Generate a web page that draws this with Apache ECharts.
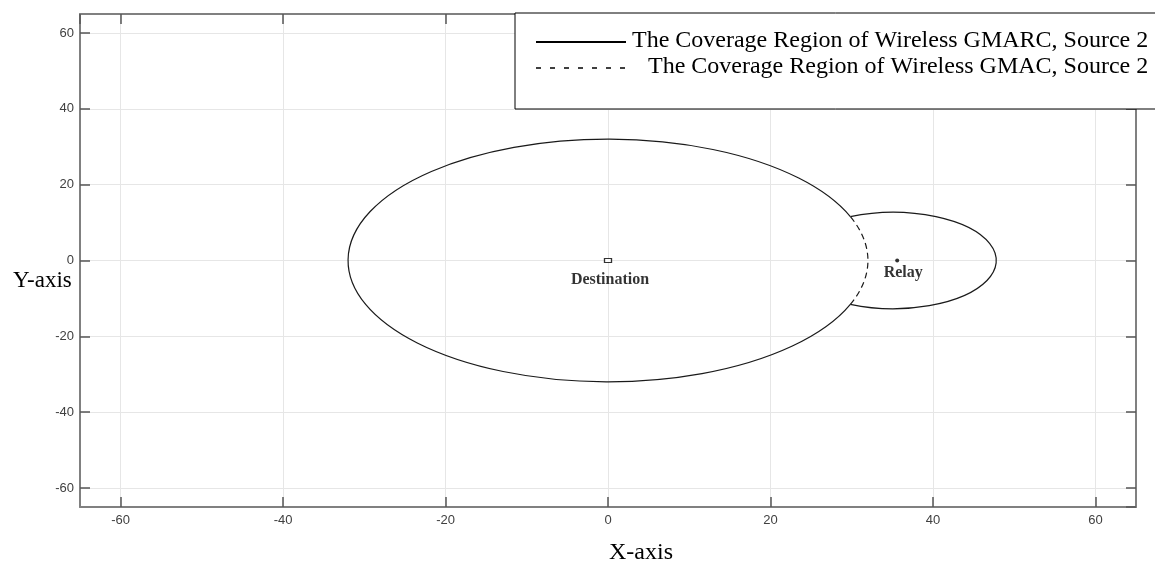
<!DOCTYPE html>
<html><head><meta charset="utf-8">
<script src="https://cdn.jsdelivr.net/npm/echarts@6/dist/echarts.min.js"></script>
<style>html,body{margin:0;padding:0;background:#fff}#c{width:1155px;height:562px}</style>
</head><body><div id="c"></div>
<script>
// ---- data ----
const regionNames = ['The Coverage Region of Wireless GMARC, Source 2', 'The Coverage Region of Wireless GMAC, Source 2'];
const circleCx = [0, 35.1];
const circleCy = [0, 0];
const circleR = [32, 12.7];
// boundary arcs: circle index, start angle, end angle (degrees, counter-clockwise)
const gmarcArcCircle = [0, 1];
const gmarcArcStart = [21.2, -114.5];
const gmarcArcEnd = [338.8, 114.5];
const gmacArcCircle = [0];
const gmacArcStart = [-21.2];
const gmacArcEnd = [21.2];
const nodeNames = ['Destination', 'Relay'];
const nodeX = [0, 35.6];
const nodeY = [0, 0];
const axisMin = -65, axisMax = 65, tickStep = 20;
const xAxisName = 'X-axis', yAxisName = 'Y-axis';

// ---- chart ----
const chart = echarts.init(document.getElementById('c'), null, {renderer: 'canvas'});
const serif = '"Liberation Serif","Times New Roman",serif';
const sans = '"Liberation Sans",Arial,Helvetica,sans-serif';

function arcData(circ, st, en) {
  return circ.map((ci, i) => [circleCx[ci], circleCy[ci], circleR[ci], st[i], en[i]]);
}
function makeRender(dashed) {
  return function (params, api) {
    const cx = api.value(0), cy = api.value(1), r = api.value(2);
    const d0 = api.value(3), d1 = api.value(4);
    const a0 = d0 * Math.PI / 180, a1 = d1 * Math.PI / 180;
    const c = api.coord([cx, cy]);
    const s = api.size([r, r]);
    const rx = s[0], ry = s[1];
    const sx = c[0] + rx * Math.cos(a0), sy = c[1] - ry * Math.sin(a0);
    const ex = c[0] + rx * Math.cos(a1), ey = c[1] - ry * Math.sin(a1);
    const large = (d1 - d0) > 180 ? 1 : 0;
    return {
      type: 'path',
      shape: {pathData: 'M' + sx + ' ' + sy + ' A' + rx + ' ' + ry + ' 0 ' + large + ' 0 ' + ex + ' ' + ey},
      style: {fill: 'none', stroke: '#1a1a1a', lineWidth: 1.2, lineDash: dashed ? [6, 4] : null}
    };
  };
}

function axisCommon(showLabel, showSplit) {
  return {
    min: axisMin, max: axisMax, splitNumber: 6, minInterval: tickStep, maxInterval: tickStep,
    axisLine: {show: true, onZero: false, lineStyle: {color: '#808080', width: 2}},
    axisTick: {show: true, inside: true, length: 10, lineStyle: {color: '#555', width: 1.5}},
    axisLabel: {show: showLabel, color: '#404040', fontSize: 13, fontFamily: sans, showMinLabel: false, showMaxLabel: false},
    splitLine: {show: showSplit, lineStyle: {color: '#e6e6e6', width: 1}}
  };
}

const xBottom = Object.assign(axisCommon(true, true), {type: 'value', position: 'bottom'});
xBottom.axisLabel.margin = 7;
const xTop = Object.assign(axisCommon(false, false), {type: 'value', position: 'top'});
const yLeft = Object.assign(axisCommon(true, true), {type: 'value', position: 'left'});
yLeft.axisLabel.margin = 6;
const yRight = Object.assign(axisCommon(false, false), {type: 'value', position: 'right'});

const nodeStyles = [
  {symbol: 'rect', symbolSize: [7, 4], itemStyle: {color: '#fff', borderColor: '#000', borderWidth: 1}, label: {distance: 9, offset: [2, 0]}},
  {symbol: 'circle', symbolSize: 4, itemStyle: {color: '#000'}, label: {distance: 2, offset: [6, 0]}}
];
const nodeData = nodeNames.map((n, i) => ({
  name: n, value: [nodeX[i], nodeY[i]],
  symbol: nodeStyles[i].symbol, symbolSize: nodeStyles[i].symbolSize, itemStyle: nodeStyles[i].itemStyle,
  label: Object.assign({show: true, position: 'bottom', formatter: '{b}', color: '#000', fontFamily: serif, fontWeight: 'bold', fontSize: 16}, nodeStyles[i].label)
}));

const legendX = 515, legendY = 13;
chart.setOption({
  animation: false,
  backgroundColor: '#fff',
  grid: {left: 80, right: 19, top: 14, bottom: 55, containLabel: false},
  xAxis: [xBottom, xTop],
  yAxis: [yLeft, yRight],
  series: [
    {name: regionNames[0], type: 'custom', renderItem: makeRender(false), data: arcData(gmarcArcCircle, gmarcArcStart, gmarcArcEnd), z: 3, silent: true},
    {name: regionNames[1], type: 'custom', renderItem: makeRender(true), data: arcData(gmacArcCircle, gmacArcStart, gmacArcEnd), z: 3, silent: true},
    {name: 'Nodes', type: 'scatter', data: nodeData, z: 4, silent: true}
  ],
  graphic: [
    {type: 'text', left: 13, top: 269, z: 10, style: {text: yAxisName, font: '23px ' + serif, fill: '#000'}},
    {type: 'text', left: 609, top: 541, z: 10, style: {text: xAxisName, font: '24px ' + serif, fill: '#000'}},
    {type: 'group', x: legendX, y: legendY, z: 100, children: [
      {type: 'rect', shape: {x: 0, y: 0, width: 700, height: 96}, style: {fill: '#fff', stroke: '#000', lineWidth: 1}, z: 100},
      {type: 'line', shape: {x1: 21, y1: 29, x2: 111, y2: 29}, style: {stroke: '#000', lineWidth: 2}, z: 101},
      {type: 'line', shape: {x1: 21, y1: 55, x2: 111, y2: 55}, style: {stroke: '#000', lineWidth: 1.5, lineDash: [5, 9]}, z: 101},
      {type: 'text', x: 117, y: 28, z: 101, style: {text: regionNames[0], font: '24px ' + serif, fill: '#000', textVerticalAlign: 'middle'}},
      {type: 'text', x: 133, y: 54, z: 101, style: {text: regionNames[1], font: '24px ' + serif, fill: '#000', textVerticalAlign: 'middle'}}
    ]}
  ]
});
</script>
</body></html>
